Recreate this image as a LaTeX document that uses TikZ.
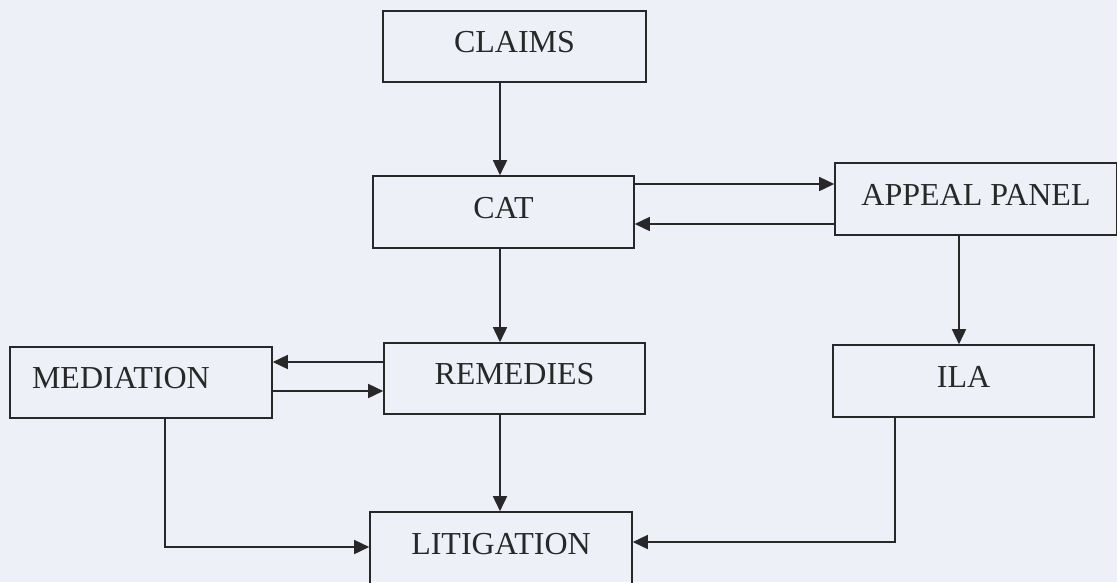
\documentclass[tikz,border=0pt]{standalone}
\usepackage{fontspec}
\setmainfont{Liberation Serif}
\usetikzlibrary{arrows.meta}
\definecolor{bg}{RGB}{237,241,247}
\definecolor{ink}{RGB}{40,40,40}
\begin{document}
\begin{tikzpicture}[x=1pt,y=-1pt,
  box/.style={draw=ink,line width=1.6pt,rectangle,inner sep=0pt,
    minimum width=#1,minimum height=71pt,text=ink,
    font=\fontsize{32}{32}\selectfont,text height=21.5pt,text depth=9pt},
  box/.default=261pt,
  conn/.style={draw=ink,line width=1.6pt,-{Triangle[length=15pt,width=14pt]}}]
\useasboundingbox[fill=bg] (0,0) rectangle (1117,582);
\node[box=263pt] (claims) at (514.5,46.5) {CLAIMS};
\node[box=261pt,minimum height=72pt] (cat) at (503.5,212) {CAT};
\node[box=282pt,minimum height=72pt] (appeal) at (976,199) {APPEAL PANEL};
\node[box=262pt,text width=218pt,align=left,inner xsep=22pt] (mediation) at (141,382.5) {MEDIATION};
\node[box=261pt] (remedies) at (514.5,378.5) {REMEDIES};
\node[box=261pt,minimum height=72pt] (ila) at (963.5,381) {ILA};
\node[box=262pt,minimum height=72pt] (litigation) at (501,548) {LITIGATION};
% connectors
\draw[conn] ([xshift=-14.5pt]claims.south) -- ([xshift=-14.5pt]claims.south |- cat.north);
\draw[conn] ([yshift=28pt]cat.east) -- ([yshift=28pt]cat.east -| appeal.west);
\draw[conn] ([yshift=-25pt]appeal.west) -- ([yshift=-25pt]appeal.west -| cat.east);
\draw[conn] ([xshift=-3.5pt]cat.south) -- ([xshift=-3.5pt]cat.south |- remedies.north);
\draw[conn] ([yshift=16.5pt]remedies.west) -- ([yshift=16.5pt]remedies.west -| mediation.east);
\draw[conn] ([yshift=-8.5pt]mediation.east) -- ([yshift=-8.5pt]mediation.east -| remedies.west);
\draw[conn] ([xshift=-17pt]appeal.south) -- ([xshift=-17pt]appeal.south |- ila.north);
\draw[conn] ([xshift=-14.5pt]remedies.south) -- ([xshift=-14.5pt]remedies.south |- litigation.north);
\coordinate (mc) at ([xshift=24pt]mediation.south |- 0,547);
\draw[conn] ([xshift=24pt]mediation.south) -- (mc) -- (mc -| litigation.west);
\coordinate (ic) at ([xshift=-68.5pt]ila.south |- 0,542);
\draw[conn] ([xshift=-68.5pt]ila.south) -- (ic) -- (ic -| litigation.east);
\end{tikzpicture}
\end{document}
